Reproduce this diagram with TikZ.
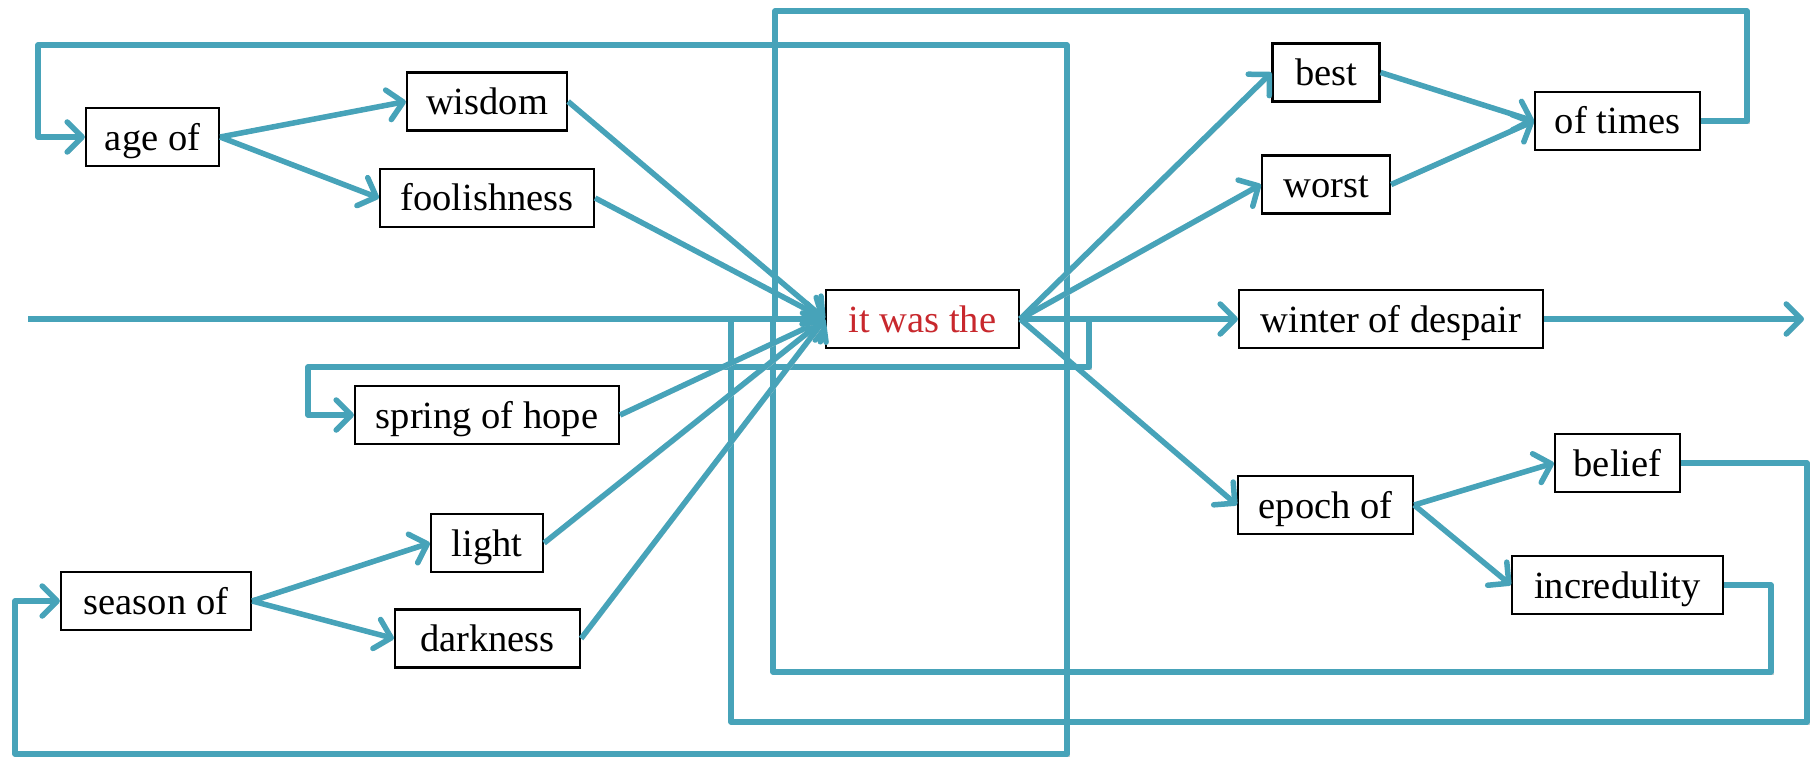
\documentclass[tikz,border=0pt]{standalone}
\usepackage{fontspec}
\setmainfont{Liberation Serif}
\usetikzlibrary{arrows.meta}
\definecolor{tealline}{RGB}{71,163,185}
\definecolor{redtext}{RGB}{200,40,45}
\begin{document}
\begin{tikzpicture}[x=1pt,y=-1pt,
  box/.style={draw=black, line width=2.2pt, fill=white, inner sep=0pt,
    minimum height=58pt, text height=30pt, text depth=4pt,
    font=\fontsize{38.5}{40}\selectfont},
  arr/.style={draw=tealline, line width=5.5pt, line join=round,
    preaction={draw=black!18, transform canvas={xshift=1.8pt,yshift=-2pt}},
    -{Straight Barb[length=15pt,width=30pt,line width=5.5pt,round]}}]
\useasboundingbox (0,0) rectangle (1813,757);
% nodes
\node[box, minimum width=133pt] (ageof) at (152.5,137) {age of};
\node[box, minimum width=160pt] (wisdom) at (487,101.5) {wisdom};
\node[box, minimum width=214pt] (foolish) at (487,198) {foolishness};
\node[box, minimum width=264pt] (spring) at (487,415) {spring of hope};
\node[box, minimum width=112pt] (light) at (487,543) {light};
\node[box, minimum width=185pt] (dark) at (487.5,638.5) {darkness};
\node[box, minimum width=190pt] (season) at (156,601) {season of};
\node[box, minimum width=193pt, text=redtext] (itwas) at (922.5,319) {it was the};
\node[box, minimum width=107pt] (best) at (1326,72.5) {best};
\node[box, minimum width=128pt] (worst) at (1326,184.5) {worst};
\node[box, minimum width=165pt] (oftimes) at (1617.5,121) {of times};
\node[box, minimum width=304pt] (winter) at (1391,319) {winter of despair};
\node[box, minimum width=175pt] (epoch) at (1325.5,505) {epoch of};
\node[box, minimum width=125pt] (belief) at (1617.5,463) {belief};
\node[box, minimum width=211pt] (incred) at (1617.5,585) {incredulity};
% free ends and corners
\coordinate (in) at (28,319);
\coordinate (out) at (1804,319);
\coordinate (t1) at (1747,11);
\coordinate (t2) at (775,11);
\coordinate (i1) at (1771,672);
\coordinate (i2) at (773,672);
\coordinate (b1) at (1807,722);
\coordinate (b2) at (731,722);
\coordinate (a1) at (1067,45);
\coordinate (a2) at (38,45);
\coordinate (s1) at (1067,754);
\coordinate (s2) at (15,754);
\coordinate (p1) at (1089,367);
\coordinate (p2) at (308,367);
% loops
\draw[arr] (oftimes.east) -| (t1) -- (t2) |- (itwas.west);
\draw[arr] (incred.east) -| (i1) -- (i2) |- (itwas.west);
\draw[arr] (belief.east) -| (b1) -- (b2) |- (itwas.west);
\draw[arr] (itwas.east) -| (a1) -- (a2) |- (ageof.west);
\draw[arr] (itwas.east) -| (s1) -- (s2) |- (season.west);
\draw[arr] (itwas.east) -| (p1) -- (p2) |- (spring.west);
% straight connectors
\draw[arr] (in) -- (itwas.west);
\draw[arr] (winter.east) -- (out);
\draw[arr] (ageof.east) -- (wisdom.west);
\draw[arr] (ageof.east) -- (foolish.west);
\draw[arr] (season.east) -- (light.west);
\draw[arr] (season.east) -- (dark.west);
\draw[arr] (wisdom.east) -- (itwas.west);
\draw[arr] (foolish.east) -- (itwas.west);
\draw[arr] (spring.east) -- (itwas.west);
\draw[arr] (light.east) -- (itwas.west);
\draw[arr] (dark.east) -- (itwas.west);
\draw[arr] (itwas.east) -- (best.west);
\draw[arr] (itwas.east) -- (worst.west);
\draw[arr] (itwas.east) -- (winter.west);
\draw[arr] (itwas.east) -- (epoch.west);
\draw[arr] (best.east) -- (oftimes.west);
\draw[arr] (worst.east) -- (oftimes.west);
\draw[arr] (epoch.east) -- (belief.west);
\draw[arr] (epoch.east) -- (incred.west);
\end{tikzpicture}
\end{document}
